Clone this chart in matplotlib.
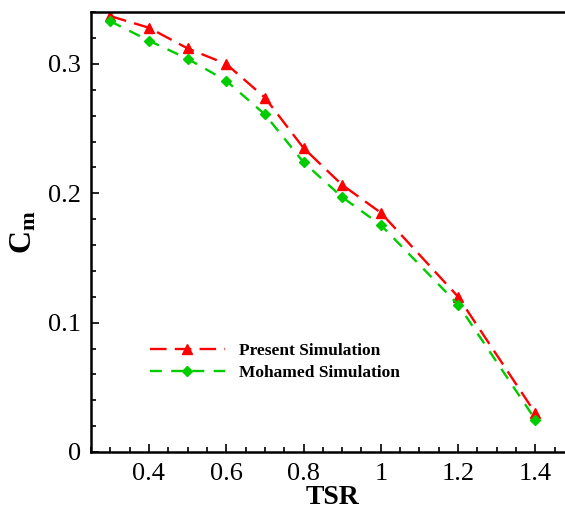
import matplotlib
matplotlib.use("Agg")
import matplotlib.pyplot as plt
from matplotlib.ticker import MultipleLocator, FuncFormatter

plt.rcParams['font.family'] = 'Liberation Serif'
plt.rcParams['mathtext.fontset'] = 'custom'
plt.rcParams['mathtext.rm'] = 'Liberation Serif'
plt.rcParams['mathtext.bf'] = 'Liberation Serif:bold'
plt.rcParams['mathtext.it'] = 'Liberation Serif:italic'

# tip speed ratio and moment coefficient
tsr = [0.3, 0.4, 0.5, 0.6, 0.7, 0.8, 0.9, 1.0, 1.2, 1.4]
cm_present = [0.337, 0.328, 0.312, 0.300, 0.274, 0.235, 0.2065, 0.185, 0.120, 0.030]
cm_mohamed = [0.333, 0.318, 0.304, 0.287, 0.261, 0.224, 0.197, 0.1755, 0.114, 0.025]

fig = plt.figure(figsize=(5.65, 5.09), dpi=100)
# right edge of the frame is cut off in the original
ax = fig.add_axes([0.161, 0.112, 0.855, 0.864])

ax.plot(tsr, cm_present, color='#ff0000', lw=1.7, dashes=(7, 3.5),
        marker='^', ms=7, label='Present Simulation')
ax.plot(tsr, cm_mohamed, color='#00cc00', lw=1.7, dashes=(5, 4),
        marker='D', ms=5.5, label='Mohamed Simulation')

ax.set_xlim(0.25, 1.5)
ax.set_ylim(0, 0.34)
ax.xaxis.set_major_locator(MultipleLocator(0.2))
ax.xaxis.set_minor_locator(MultipleLocator(0.05))
ax.yaxis.set_major_locator(MultipleLocator(0.1))
ax.yaxis.set_minor_locator(MultipleLocator(0.02))
ax.xaxis.set_major_formatter(FuncFormatter(lambda v, p: ('%g' % round(v, 2))))
ax.yaxis.set_major_formatter(FuncFormatter(lambda v, p: ('%g' % round(v, 2))))

ax.tick_params(which='both', direction='in', top=False, right=False,
               labelsize=19, width=1.2)
ax.tick_params(which='major', length=6)
ax.tick_params(which='minor', length=3.5)
ax.tick_params(axis='x', pad=8)
ax.tick_params(axis='y', pad=7)
for s in ax.spines.values():
    s.set_linewidth(1.8)

ax.set_xlabel('TSR', fontsize=20, fontweight='bold', labelpad=0)
ax.set_ylabel(r'$\mathbf{C}_\mathbf{m}$', fontsize=23, labelpad=7)

ax.legend(loc='upper left', bbox_to_anchor=(0.09, 0.283), frameon=False,
          prop={'weight': 'bold', 'size': 12.5}, handlelength=4.3,
          handletextpad=0.8, labelspacing=0.3)

fig.savefig('out.png', dpi=100)
